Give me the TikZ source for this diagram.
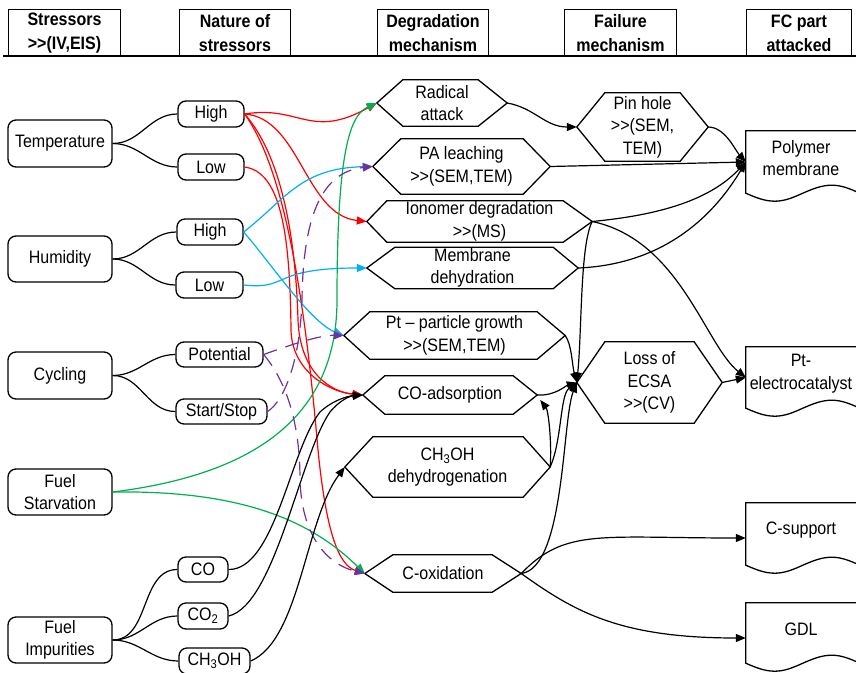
\documentclass[tikz,border=0pt]{standalone}
\usepackage{fontspec}
\setmainfont{Liberation Sans}[FakeStretch=0.89]
\usetikzlibrary{arrows.meta}
\definecolor{cred}{RGB}{255,0,0}
\definecolor{cblue}{RGB}{0,176,240}
\definecolor{cgreen}{RGB}{0,176,80}
\definecolor{cpurp}{RGB}{112,48,160}
\newcommand\gtgt{>\kern0pt>}
\newcommand\hexo[3]{\draw[line width=1.3pt] (#1.west) -- ([xshift=#2pt]#1.north west) -- ([xshift=-#3pt]#1.north east) -- (#1.east) -- ([xshift=-#3pt]#1.south east) -- ([xshift=#2pt]#1.south west) -- cycle;}
\newcommand\docsh[1]{\draw[line width=1.3pt] ([xshift=20pt,yshift=-4pt]#1.north east) -- ([yshift=-4pt]#1.north west) -- ([yshift=-4pt]#1.south west) sin ++(29,8) cos ++(28,-8) sin ++(29,-8) cos ++(28,8);}
\tikzset{
 lab/.style={font=\fontsize{18}{22.5}\selectfont, align=center, inner sep=0pt},
 rbox/.style={lab, draw, line width=1.3pt, rounded corners=8pt},
 hexn/.style={lab},
 hd/.style={lab, font=\fontsize{18}{24}\selectfont\bfseries},
 conn/.style={line width=1.2pt},
 arr/.style={-{Triangle[length=10pt,width=8pt]}},
 kred/.style={conn, color=cred, arr},
 kblue/.style={conn, color=cblue, arr},
 kgreen/.style={conn, color=cgreen, arr},
 kpurp/.style={conn, color=cpurp, arr, dash pattern=on 14pt off 9pt},
 kblack/.style={conn, arr},
}
\begin{document}
\begin{tikzpicture}[x=1pt,y=-1pt]
\useasboundingbox (0,0) rectangle (856,672);
\clip (0,0) rectangle (856,672);
% header
\node[hd, minimum width=111, minimum height=46] (h1) at (64.5,33) {Stressors\\\gtgt(IV,EIS)};
\node[hd, minimum width=110, minimum height=46] (h2) at (235,33) {Nature of\\stressors};
\node[hd, minimum width=110, minimum height=46] (h3) at (433,33) {Degradation\\mechanism};
\node[hd, minimum width=111, minimum height=46] (h4) at (620.5,33) {Failure\\mechanism};
\node[hd, minimum width=104, minimum height=46] (h5) at (799,33) {FC part\\attacked};
\foreach \h in {h1,h2,h3,h4,h5}{\draw[line width=1.3pt] (\h.south west) -- (\h.north west) -- (\h.north east) -- (\h.south east);}
\coordinate (hl0) at (3,56);
\coordinate (hl1) at (856,56);
\draw[line width=1.6pt] (hl0) -- (hl1);

% stressors
\node[rbox, minimum width=104, minimum height=47] (temp) at (60,143.5) {Temperature};
\node[rbox, minimum width=104, minimum height=46] (hum) at (60,259) {Humidity};
\node[rbox, minimum width=104, minimum height=47] (cyc) at (60,375.5) {Cycling};
\node[rbox, minimum width=104, minimum height=46] (fs) at (60,492) {Fuel\\Starvation};
\node[rbox, minimum width=104, minimum height=46] (fi) at (60,640) {Fuel\\Impurities};

% nature
\node[rbox, minimum width=66, minimum height=26] (th) at (211,114) {High};
\node[rbox, minimum width=66, minimum height=26] (tl) at (211,167) {Low};
\node[rbox, minimum width=66, minimum height=26] (hh) at (210,232) {High};
\node[rbox, minimum width=67, minimum height=26] (hl) at (209.5,285) {Low};
\node[rbox, minimum width=87, minimum height=25] (pot) at (219.5,354.5) {Potential};
\node[rbox, minimum width=91, minimum height=25] (ss) at (221.5,411.5) {Start/Stop};
\node[rbox, minimum width=50, minimum height=25] (co) at (203,569.5) {CO};
\node[rbox, minimum width=50, minimum height=26] (co2) at (203,616) {CO\textsubscript{2}};
\node[rbox, minimum width=71, minimum height=26] (ch3) at (214.5,661) {CH\textsubscript{3}OH};

\foreach \a/\b in {temp/th,temp/tl,hum/hh,hum/hl,cyc/pot,cyc/ss,fi/co,fi/co2,fi/ch3}{\draw[conn] (\a.east) to[out=0,in=180] (\b.west);}

% degradation
\node[hexn, minimum width=130, minimum height=46] (rad) at (442,103) {Radical\\attack};
\node[hexn, minimum width=177, minimum height=55] (pal) at (461.5,166.5) {PA leaching\\\gtgt(SEM,TEM)};
\node[hexn, minimum width=225, minimum height=41] (ion) at (479.5,221.5) {Ionomer degradation\\\gtgt(MS)};
\node[hexn, minimum width=211, minimum height=41] (mdh) at (472.5,268) {Membrane\\dehydration};
\node[hexn, minimum width=221, minimum height=47] (ptg) at (454.5,335.5) {Pt – particle growth\\\gtgt(SEM,TEM)};
\node[hexn, minimum width=174, minimum height=38] (coa) at (450,395) {CO-adsorption};
\node[hexn, minimum width=205, minimum height=60] (chd) at (447.5,467) {CH\textsubscript{3}OH\\dehydrogenation};
\node[hexn, minimum width=156, minimum height=37] (cox) at (443,573.5) {C-oxidation};
\hexo{rad}{26}{29}
\hexo{pal}{28}{27}
\hexo{ion}{20}{29}
\hexo{mdh}{28}{25}
\hexo{ptg}{26}{28}
\hexo{coa}{22}{24}
\hexo{chd}{28}{27}
\hexo{cox}{28}{29}

% failure
\node[hexn, minimum width=131, minimum height=68] (pin) at (642.5,127) {Pin hole\\\gtgt(SEM,\\TEM)};
\node[hexn, minimum width=145, minimum height=81] (ecsa) at (649.5,382.5) {Loss of\\ECSA\\\gtgt(CV)};
\hexo{pin}{28}{28}
\hexo{ecsa}{28}{28}

% parts
\node[lab, minimum width=110, minimum height=62] (pm) at (801,158) {Polymer\\membrane};
\node[lab, minimum width=110, minimum height=61] (pte) at (801,373.5) {Pt-\\electrocatalyst};
\node[lab, minimum width=110, minimum height=62] (csup) at (801,530) {C-support};
\node[lab, minimum width=110, minimum height=60] (gdl) at (801,629) {GDL};
\docsh{pm}\docsh{pte}\docsh{csup}\docsh{gdl}

% red
\draw[kred] (th.east) .. controls (300,105) and (310,140) .. (rad.west);
\draw[kred] (th.east) .. controls (300,118) and (305,215) .. (ion.west);
\draw[kred] (th.east) .. controls (285,160) and (296,250) .. (298,320) .. controls (300,372) and (330,392) .. (coa.west);
\draw[kred] (th.east) .. controls (285,170) and (305,300) .. (318,450) .. controls (326,530) and (338,565) .. (cox.west);
\draw[kred] (tl.east) .. controls (280,172) and (290,230) .. (291,330) .. controls (292,372) and (330,392) .. (coa.west);
% blue
\draw[kblue] (hh.east) .. controls (285,200) and (300,168) .. (pal.west);
\draw[kblue] (hh.east) .. controls (270,262) and (310,322) .. (ptg.west);
\draw[kblue] (hl.east) .. controls (290,290) and (270,268) .. (mdh.west);
% green
\draw[kgreen] (fs.east) .. controls (250,475) and (337,420) .. (337,300) .. controls (337,150) and (350,115) .. (rad.west);
\draw[kgreen] (fs.east) .. controls (250,490) and (315,525) .. (cox.west);
% purple
\draw[kpurp] (pot.east) .. controls (290,345) and (320,335) .. (ptg.west);
\draw[kpurp] (pot.east) .. controls (285,380) and (300,420) .. (300,480) .. controls (302,540) and (330,565) .. (cox.west);
\draw[kpurp] (ss.east) .. controls (285,400) and (300,360) .. (302,300) .. controls (303,220) and (320,172) .. (pal.west);
% black impurities
\draw[kblack] (co.east) .. controls (275,570) and (290,450) .. (320,412) .. controls (333,400) and (348,396) .. (coa.west);
\draw[kblack] (co2.east) .. controls (275,605) and (300,455) .. (330,412) .. controls (340,400) and (350,396) .. (coa.west);
\draw[kblack] (ch3.east) .. controls (300,640) and (305,520) .. (chd.west);
% right part
\draw[kblack] (rad.east) .. controls (535,108) and (545,127) .. (pin.west);
\draw[kblack] (pal.east) -- ([yshift=-4pt]pm.west);
\draw[kblack] (pin.east) .. controls (725,127) and (735,150) .. ([yshift=-4pt]pm.west);
\draw[kblack] (ion.east) .. controls (660,215) and (710,200) .. ([yshift=-4pt]pm.west);
\draw[kblack] (mdh.east) .. controls (650,265) and (705,230) .. ([yshift=-4pt]pm.west);
\draw[kblack] (ion.east) .. controls (680,240) and (705,345) .. ([yshift=-4pt]pte.west);
\draw[kblack] (ecsa.east) -- ([yshift=-4pt]pte.west);
\draw[kblack] (ion.east) .. controls (580,245) and (582,330) .. (ecsa.west);
\draw[kblack] (ptg.east) .. controls (572,345) and (572,365) .. (ecsa.west);
\draw[kblack] (coa.east) .. controls (555,396) and (565,386) .. (ecsa.west);
\draw[kblack] (chd.east) .. controls (562,440) and (560,395) .. (ecsa.west);
\draw[kblack] (chd.east) .. controls (552,440) and (548,410) .. ([xshift=3pt,yshift=-5pt]coa.east);
\draw[kblack] (cox.east) .. controls (565,568) and (562,420) .. (ecsa.west);
\draw[kblack] (cox.east) .. controls (565,528) and (600,538) .. ([yshift=-8pt]csup.west);
\draw[kblack] (cox.east) .. controls (575,612) and (620,638) .. ([yshift=-9pt]gdl.west);
\end{tikzpicture}
\end{document}
